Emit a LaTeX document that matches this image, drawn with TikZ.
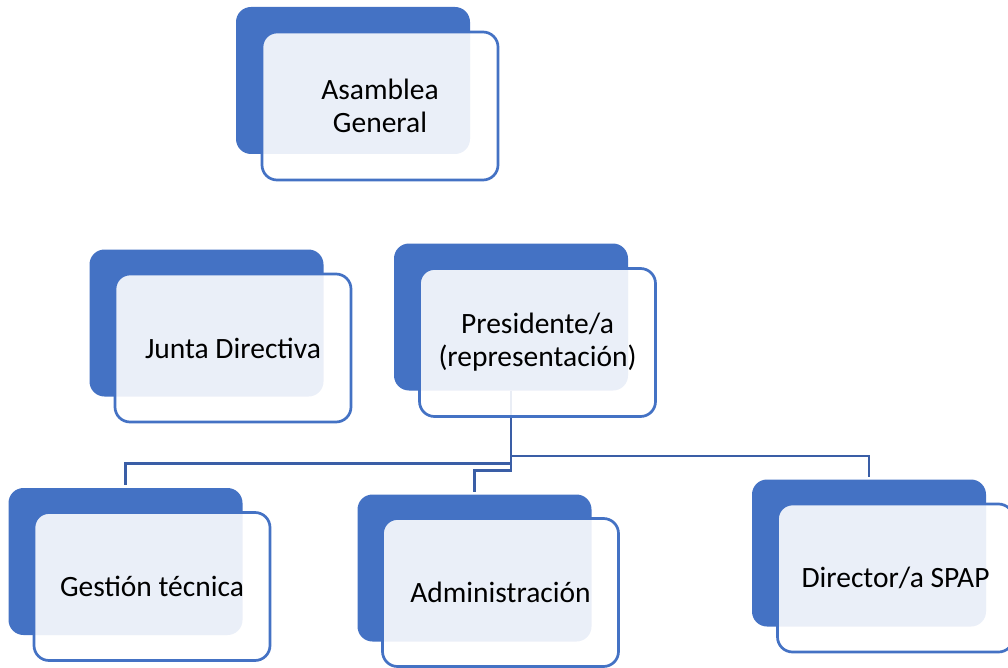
\documentclass[tikz,border=0pt]{standalone}
\usepackage{fontspec}
\newfontfamily\lblfont{Carlito}
\definecolor{accent}{RGB}{68,114,196}
\definecolor{connblue}{RGB}{58,94,166}
\begin{document}
\begin{tikzpicture}[x=1pt,y=-1pt,
  backbox/.style={rectangle, rounded corners=15pt, fill=accent, minimum width=234pt, minimum height=147pt, inner sep=0pt, outer sep=0pt},
  frontbox/.style={rectangle, rounded corners=15pt, fill=white, fill opacity=0.89, text opacity=1, draw=accent, draw opacity=1, line width=2.7pt, minimum width=236pt, minimum height=148pt, inner sep=0pt, outer sep=0pt, align=center, font={\lblfont\fontsize{29.5}{33}\selectfont}},
  conn/.style={draw=connblue, line width=2.6pt},
]
\useasboundingbox (0,0) rectangle (1008,668);
% back boxes
\node[backbox] (ab) at (353,80.5) {};
\node[backbox] (jb) at (206.5,323) {};
\node[backbox] (pb) at (511,317) {};
\node[backbox] (gb) at (125.5,561.5) {};
\node[backbox] (mb) at (474.5,568) {};
\node[backbox] (db) at (869,553) {};
% connectors
\coordinate (h1) at (0,456);
\coordinate (h2) at (0,463.5);
\coordinate (h3) at (0,470.5);
\draw[conn, shorten >=3pt] (pb.south) -- (pb.south |- h1) -| (db.north);
\draw[conn, shorten >=3pt] (pb.south) -- (pb.south |- h2) -| (gb.north);
\draw[conn, shorten >=3pt] (pb.south) -- (pb.south |- h3) -| (mb.north);
% front boxes
\node[frontbox] (af) at (380,106) {Asamblea\\General};
\node[frontbox] (jf) at (233,348) {Junta Directiva};
\node[frontbox] (pf) at (537.5,342.5) {Presidente/a\\(representación)};
\node[frontbox] (gf) at (152,586.5) {Gestión técnica};
\node[frontbox] (mf) at (500.5,592.5) {Administración};
\node[frontbox] (df) at (895.5,578) {Director/a SPAP};
\end{tikzpicture}
\end{document}
